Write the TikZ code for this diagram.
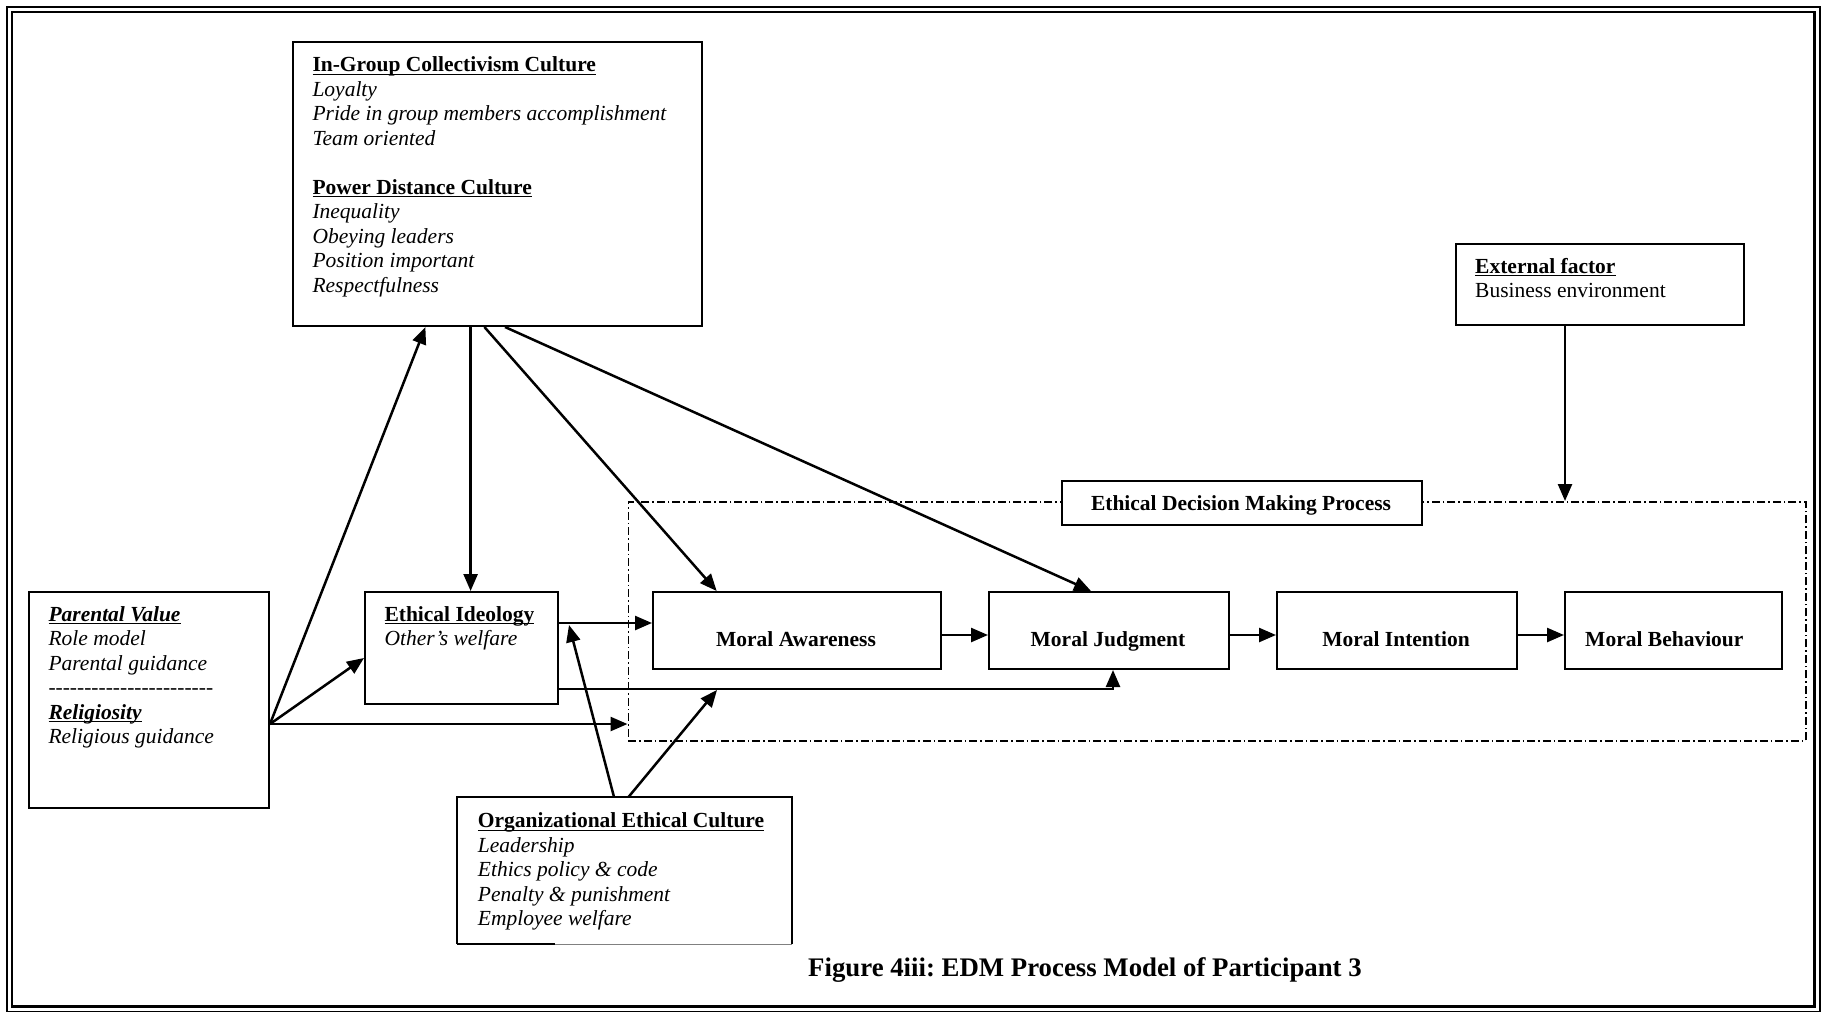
\documentclass[tikz,border=0pt]{standalone}
\usepackage{fontspec}
\setmainfont{Liberation Serif}
\usetikzlibrary{arrows.meta,calc}
\frenchspacing

% underline placed at a fixed distance below the baseline
\newsavebox\ulbox
\newcommand\hul[1]{\sbox\ulbox{#1}\rlap{\rule[-3pt]{\wd\ulbox}{1.4pt}}\usebox\ulbox}
% a single hyphen that never joins its neighbours into a dash
\newcommand\hy{-\kern0pt}

\begin{document}
\begin{tikzpicture}[x=1pt,y=-1pt,
  box/.style={draw,line width=2pt,rectangle,inner sep=0pt,anchor=north west},
  txt/.style={inner sep=0pt,align=left,anchor=north west,font=\fontsize{21.5}{24.5}\selectfont},
  lbl/.style={inner sep=0pt,anchor=base,font=\fontsize{21.5}{24.5}\selectfont\bfseries},
  arr/.style={line width=2.5pt,-{Triangle[length=17pt,width=14pt]}},
  region/.style={draw,rectangle,inner sep=0pt,anchor=north west,line width=1.6pt,
                 dash pattern=on 8pt off 3pt on 1.5pt off 3pt},
]
\useasboundingbox (0,0) rectangle (1822,1015);

% double page frame
\draw[line width=1.7pt] (6.8,6.8) rectangle (1820,1011.5);
\draw[line width=2.2pt] (12.2,12.2) rectangle (1814.5,1006.5);

% dash-dotted frame of the decision making process
\node[region,minimum width=1177.5pt,minimum height=239pt] (edm) at (627.5,501) {};

% boxes
\node[box,minimum width=409pt,minimum height=284pt] (ingroup) at (292,41) {};
\node[box,minimum width=288pt,minimum height=81pt] (ext) at (1455,243) {};
\node[box,fill=white,minimum width=360pt,minimum height=44pt] (edmlabel) at (1061,480) {};
\node[box,minimum width=240pt,minimum height=216pt] (parental) at (28,591) {};
\node[box,minimum width=193pt,minimum height=112pt] (ideology) at (364,591) {};
\node[box,minimum width=288pt,minimum height=77pt] (aware) at (652,591) {};
\node[box,minimum width=240pt,minimum height=77pt] (judge) at (988,591) {};
\node[box,minimum width=240pt,minimum height=77pt] (intent) at (1276,591) {};
\node[box,minimum width=217pt,minimum height=77pt] (behave) at (1564,591) {};
\node[box,draw=none,minimum width=333pt,minimum height=145pt] (org) at (457,797) {};
\draw[line width=2pt] (org.south west) -- (org.north west) -- (org.north east) -- (org.south east);
\draw[line width=2pt] (org.south west) -- ($(org.south west)+(98,0)$);
\draw[line width=0.8pt,gray] ($(org.south west)+(98,0)$) -- (org.south east);

% box texts
\node[txt] (ingroup-text) at (312.3,54.6) {\strut\textbf{\hul{In-Group Collectivism Culture}}\\
  \textit{Loyalty}\\
  \textit{Pride in group members accomplishment}\\
  \textit{Team oriented}\\[24.5pt]
  \textbf{\hul{Power Distance Culture}}\\
  \textit{Inequality}\\
  \textit{Obeying leaders}\\
  \textit{Position important}\\
  \textit{Respectfulness}};

\node[txt] (ext-text) at (1475,256.1) {\strut\textbf{\hul{External factor}}\\
  Business environment};

\node[txt] (parental-text) at (48.3,604.1) {\strut\textbf{\textit{\hul{Parental Value}}}\\
  \textit{Role model}\\
  \textit{Parental guidance}\\
  \textit{\hy\hy\hy\hy\hy\hy\hy\hy\hy\hy\hy\hy\hy\hy\hy\hy\hy\hy\hy\hy\hy\hy\hy}\\
  \textbf{\textit{\hul{Religiosity}}}\\
  \textit{Religious guidance}};

\node[txt] (ideology-text) at (384.3,604.1) {\strut\textbf{\hul{Ethical Ideology}}\\
  \textit{Other’s welfare}};

\node[txt] (org-text) at (477.7,810.6) {\strut\textbf{\hul{Organizational Ethical Culture}}\\
  \textit{Leadership}\\
  \textit{Ethics policy \& code}\\
  \textit{Penalty \& punishment}\\
  \textit{Employee welfare}};

\node[lbl] (edmlabel-text) at (1241,510.5) {Ethical Decision Making Process};
\node[lbl] (aware-text) at (796,646.2) {Moral Awareness};
\node[lbl] (judge-text) at (1108,646.2) {Moral Judgment};
\node[lbl] (intent-text) at (1396,646.2) {Moral Intention};
\node[lbl,anchor=base west] (behave-text) at (1585,646.2) {Moral Behaviour};

\node[inner sep=0pt,anchor=base west,font=\fontsize{26.8}{30}\selectfont\bfseries] (caption)
  at (808,976.5) {Figure 4iii: EDM Process Model of Participant 3};

% connectors
\coordinate (pv) at ($(parental.north east)+(0,133)$);
\coordinate (onideo) at (569,625);
\coordinate (onlink) at (717,690);

\draw[arr] ($(ingroup.south west)+(178.6,0)$) -- ($(ideology.north west)+(106.6,0)$);
\draw[arr] ($(ingroup.south west)+(192.4,0)$) -- ($(aware.north west)+(64.7,0)$);
\draw[arr] ($(ingroup.south west)+(213,0)$) -- ($(judge.north west)+(103,0)$);

\draw[arr] (pv) -- ($(ingroup.south west)+(133.4,0)$);
\draw[arr] (pv) -- ($(ideology.north west)+(0,67)$);
\draw[arr] (pv) -- ($(edm.north west)+(0,223)$);

\draw[arr] ($(ideology.north east)+(0,32)$) -- ($(aware.north west)+(0,32)$);
\draw[arr] ($(ideology.north east)+(0,98)$) -| ($(judge.south west)+(125,0)$);

\draw[arr] ($(org.north west)+(157,0)$) -- (onideo);
\draw[arr] ($(org.north west)+(171.5,0)$) -- (onlink);

\draw[arr] ($(aware.north east)+(0,44)$) -- ($(judge.north west)+(0,44)$);
\draw[arr] ($(judge.north east)+(0,44)$) -- ($(intent.north west)+(0,44)$);
\draw[arr] ($(intent.north east)+(0,44)$) -- ($(behave.north west)+(0,44)$);

\draw[arr] ($(ext.south west)+(110,0)$) -- ($(edm.north west)+(937.5,0)$);

\end{tikzpicture}
\end{document}
